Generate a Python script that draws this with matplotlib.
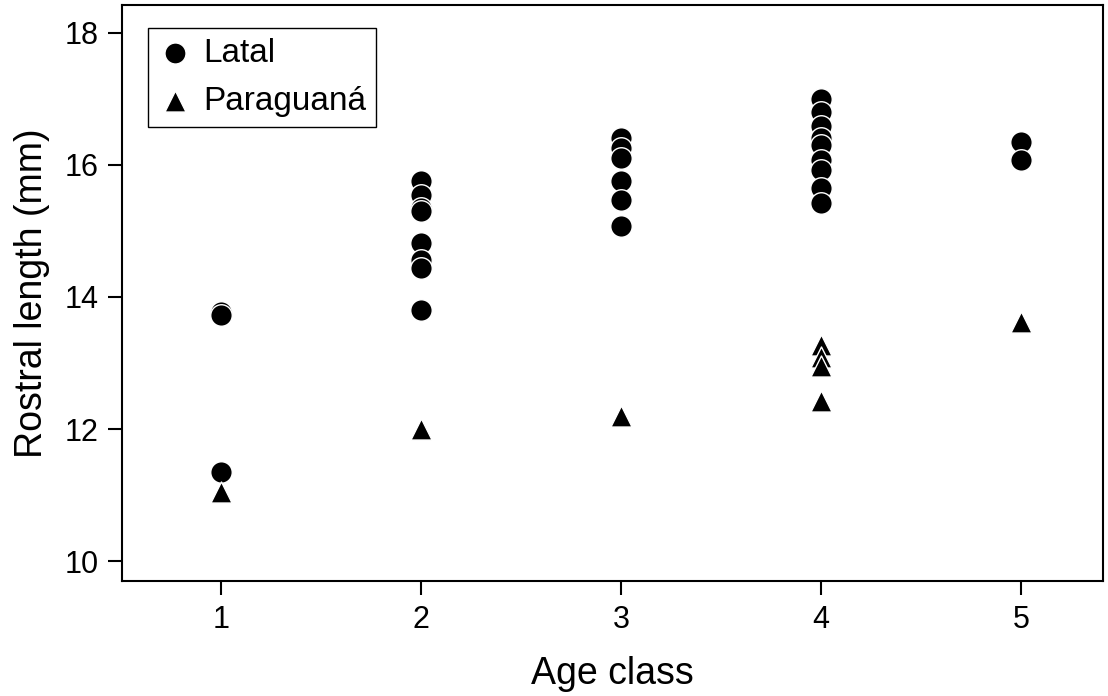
import matplotlib
matplotlib.use('Agg')
import matplotlib.pyplot as plt

plt.rcParams['font.family'] = ['Liberation Sans', 'DejaVu Sans']

# Latal: age class and rostral length (mm)
latal_age = [1, 1, 1,
             2, 2, 2, 2, 2, 2, 2, 2,
             3, 3, 3, 3, 3, 3,
             4, 4, 4, 4, 4, 4, 4, 4, 4,
             5, 5]
latal_len = [13.77, 13.73, 11.35,
             15.76, 15.55, 15.35, 15.30, 14.82, 14.56, 14.44, 13.81,
             16.40, 16.26, 16.10, 15.76, 15.46, 15.08,
             17.00, 16.80, 16.59, 16.41, 16.30, 16.08, 15.92, 15.65, 15.42,
             16.35, 16.08]

# Paraguana
para_age = [1, 2, 3, 4, 4, 4, 4, 5]
para_len = [11.05, 12.00, 12.20, 13.27, 13.09, 12.95, 12.43, 13.62]

fig = plt.figure(figsize=(11.08, 6.96), dpi=100)
ax = fig.add_axes([0.110, 0.165, 0.8855, 0.828])

ax.scatter(latal_age, latal_len, s=240, marker='o', c='black',
           edgecolors='white', linewidths=1.0, label='Latal', zorder=3)
ax.scatter(para_age, para_len, s=230, marker='^', c='black',
           edgecolors='white', linewidths=1.0, label='Paraguaná', zorder=3)

ax.set_xlim(0.505, 5.41)
ax.set_ylim(9.7, 18.42)
ax.set_xticks([1, 2, 3, 4, 5])
ax.set_yticks([10, 12, 14, 16, 18])
ax.tick_params(direction='out', length=10, width=1.5, labelsize=22, pad=7)
for sp in ax.spines.values():
    sp.set_linewidth(1.5)

ax.set_xlabel('Age class', fontsize=27, labelpad=15)
ax.set_ylabel('Rostral length (mm)', fontsize=27, labelpad=10)

leg = ax.legend(loc='upper left', fontsize=24, frameon=True, fancybox=False,
                edgecolor='black', framealpha=1, borderpad=0.3,
                handletextpad=0.35, labelspacing=0.5, handlelength=1.0,
                borderaxespad=0, bbox_to_anchor=(0.027, 0.96))
leg.get_frame().set_linewidth(1.0)
for h in leg.legend_handles:
    h.set_sizes([230])

fig.savefig('out.png', dpi=100)
